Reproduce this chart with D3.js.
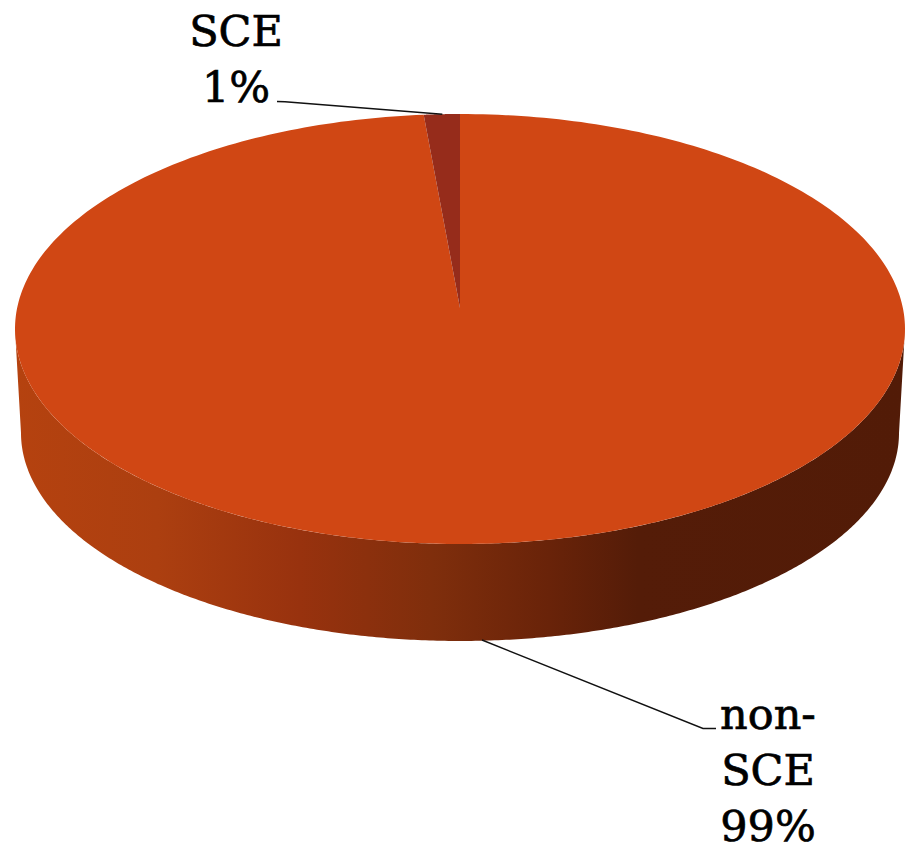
<!DOCTYPE html>
<html><head><meta charset="utf-8">
<style>html,body{margin:0;padding:0;background:#fff}svg{display:block}text{font-family:"DejaVu Serif",serif;fill:#000;stroke:#000;stroke-width:.7}</style>
<script src="https://cdn.jsdelivr.net/npm/d3@7/dist/d3.min.js"></script></head>
<body><svg id="c" width="909" height="850"></svg>
<script>
const categories = ["SCE", "non-SCE"];
const values = [1.3, 98.7];
const labelLines = [["SCE"], ["non-", "SCE"]];
const sliceColors = ["#962c1b", "#d04714"];

(function () {
const svg = d3.select("#c");
// Elliptical projection of the disc
const X = d3.scaleLinear().domain([-1, 1]).range([15, 905]);
const Y = d3.scaleLinear().domain([-1, 1]).range([544, 114]);
const Xb = d3.scaleLinear().domain([-1, 1]).range([21, 899]);
const Yb = d3.scaleLinear().domain([-1, 1]).range([641, 225]);
const apex = [460, 308];

// first slice ends at 12 o'clock, the rest runs clockwise round to it
const start = -2 * Math.PI * values[0] / d3.sum(values);
const arcs = d3.pie().sort(null).value(d => d).startAngle(start).endAngle(start + 2 * Math.PI)(values);

const rim = (s, e, fx = X, fy = Y, n = 360) =>
  d3.range(n + 1).map(k => { const t = s + (e - s) * k / n; return [fx(Math.sin(t)), fy(Math.cos(t))]; });
const line = d3.line();

// side wall
const grad = svg.append("defs").append("linearGradient").attr("id", "wall")
  .attr("gradientUnits", "userSpaceOnUse").attr("x1", 15).attr("x2", 905).attr("y1", 0).attr("y2", 0);
[[0, "#b5420f"], [0.16, "#ac3f10"], [0.32, "#98320e"], [0.47, "#7f2e0c"], [0.6, "#692309"], [0.7, "#541c08"], [1, "#521b07"]]
  .forEach(([o, c]) => grad.append("stop").attr("offset", o).attr("stop-color", c));
const upperRim = rim(Math.PI / 2, 3 * Math.PI / 2);
const lowerRim = rim(Math.PI / 2, 3 * Math.PI / 2, Xb, Yb).reverse();
svg.append("path").attr("d", line(upperRim.concat(lowerRim)) + "Z").attr("fill", "url(#wall)");

// top face
svg.selectAll("path.slice").data(arcs.slice().reverse()).join("path").attr("class", "slice")
  .attr("fill", d => sliceColors[d.index])
  .attr("d", d => line([apex].concat(rim(d.startAngle, d.endAngle))) + "Z");

// leaders
const mid = (arcs[0].startAngle + arcs[0].endAngle) / 2;
svg.append("path").attr("fill", "none").attr("stroke", "#111").attr("stroke-width", 1.4)
  .attr("d", line([[277, 101.5], [285, 101.8], [X(Math.sin(mid)) + 0.5, Y(Math.cos(mid))]]));
svg.append("path").attr("fill", "none").attr("stroke", "#111").attr("stroke-width", 1.4)
  .attr("d", line([[482, 640], [703, 728.5], [716, 728.5]]));

// labels
const labelSpec = [{x: 236, y: 46}, {x: 768, y: 729}];
arcs.forEach(d => {
  const lines = labelLines[d.index].concat(Math.round(d.value) + "%");
  const t = svg.append("text").attr("text-anchor", "middle").attr("font-size", 43);
  lines.forEach((s, k) => t.append("tspan").attr("x", labelSpec[d.index].x).attr("y", labelSpec[d.index].y + k * 56).text(s));
});
})();
</script></body></html>
